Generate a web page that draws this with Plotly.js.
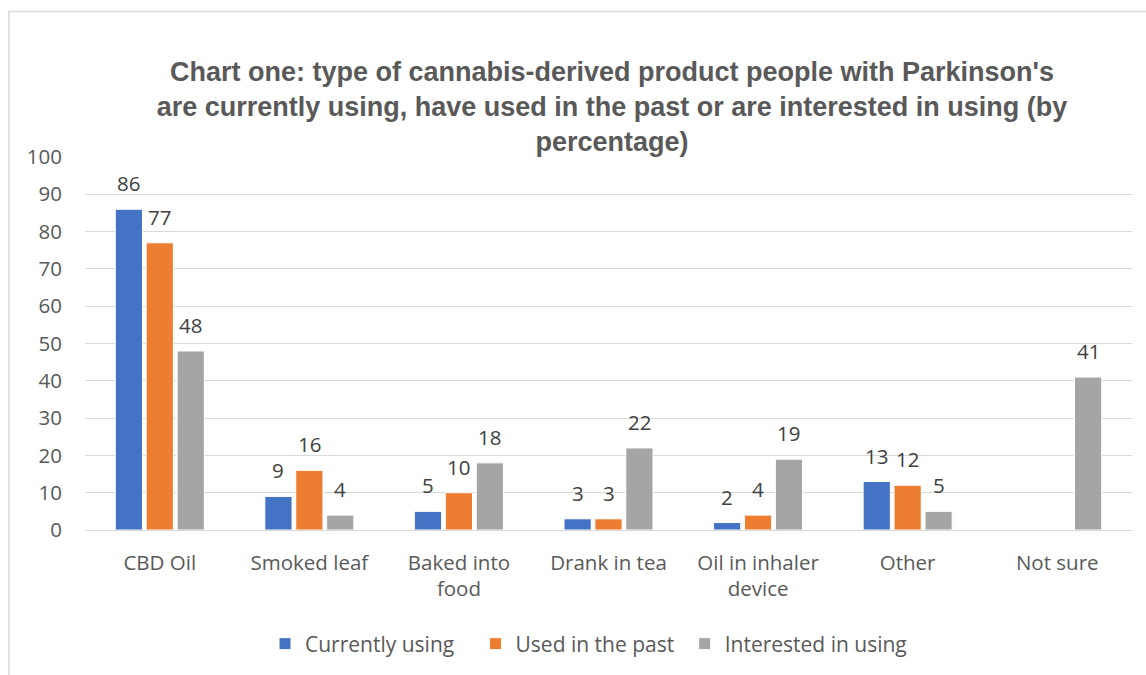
<!DOCTYPE html>
<html>
<head>
<meta charset="utf-8">
<script src="https://cdn.plot.ly/plotly-3.0.1.min.js"></script>
<style>html,body{margin:0;padding:0;background:#fff;}#chart{width:1146px;height:675px;}</style>
</head>
<body>
<div id="chart"></div>
<script>
const categories = ["CBD Oil", "Smoked leaf", "Baked into<br>food", "Drank in tea", "Oil in inhaler<br>device", "Other", "Not sure"];
const seriesNames = ["Currently using", "Used in the past", "Interested in using"];
const currentlyUsing = [86, 9, 5, 3, 2, 13, null];
const usedInPast = [77, 16, 10, 3, 4, 12, null];
const interestedInUsing = [48, 4, 18, 22, 19, 5, 41];
const colors = ["#4472C4", "#ED7D31", "#A5A5A5"];
const yTicks = [0, 10, 20, 30, 40, 50, 60, 70, 80, 90, 100];

const font = "'Open Sans', Lato, sans-serif";
const values = [currentlyUsing, usedInPast, interestedInUsing];
const bargap = 0.38, bargroupgap = 0.12;
// trailing non-breaking spaces only widen the legend entries to Excel's spacing
const legendPad = ["\u00a0\u00a0\u00a0", "\u00a0", ""];

const traces = values.map((v, i) => ({
  type: "bar",
  name: seriesNames[i] + legendPad[i],
  x: categories,
  y: v,
  marker: {color: colors[i], line: {color: "#ffffff", width: 1}},
  hoverinfo: "x+y+name"
}));

// data labels placed through the axes, at each bar's group slot
const slot = (1 - bargap) / values.length;
const annotations = [];
values.forEach((v, s) => {
  v.forEach((d, i) => {
    if (d === null) return;
    annotations.push({
      xref: "x", yref: "y",
      x: i + (s - (values.length - 1) / 2) * slot,
      y: d,
      text: String(d),
      showarrow: false,
      xanchor: "center", yanchor: "bottom",
      yshift: 10,
      font: {family: font, size: 20.5, color: "#404040"}
    });
  });
});

const ml = 85, mr = 14, mt = 157, mb = 144;
const W = 1146, H = 675;
const pw = W - ml - mr, ph = H - mt - mb;
const px = x => (x - ml) / pw;
const py = y => 1 - (y - mt) / ph;

const layout = {
  width: W, height: H,
  margin: {l: ml, r: mr, t: mt, b: mb},
  paper_bgcolor: "#ffffff",
  plot_bgcolor: "#ffffff",
  barmode: "group",
  bargap: bargap,
  bargroupgap: bargroupgap,
  title: {
    text: "Chart one: type of cannabis-derived product people with Parkinson's<br>are currently using, have used in the past or are interested in using (by<br>percentage)",
    font: {family: "'Liberation Sans', Arial, sans-serif", size: 27, color: "#595959", weight: "bold"},
    x: 612 / W, xanchor: "center",
    y: 1 - 81 / H, yanchor: "middle",
    xref: "container", yref: "container"
  },
  xaxis: {
    type: "category",
    tickfont: {family: font, size: 20.5, color: "#595959"},
    showline: true, linecolor: "#d9d9d9", linewidth: 1,
    ticks: "", showgrid: false, zeroline: false,
    ticklabelstandoff: 14,
    fixedrange: true
  },
  yaxis: {
    range: [0, 100],
    tickvals: yTicks,
    tickfont: {family: font, size: 20.5, color: "#595959"},
    showgrid: true, gridcolor: "#d9d9d9", gridwidth: 1,
    zeroline: false, showline: false, ticks: "",
    ticklabelstandoff: 22,
    fixedrange: true
  },
  legend: {
    orientation: "h",
    x: px(265), xanchor: "left",
    y: py(644), yanchor: "middle",
    font: {family: font, size: 21, color: "#595959"},
    itemwidth: 30,
    traceorder: "normal"
  },
  annotations: annotations,
  shapes: [{
    type: "rect", xref: "paper", yref: "paper",
    x0: px(9), x1: px(1160), y0: py(11), y1: py(690),
    line: {color: "#d9d9d9", width: 1.5}, fillcolor: "rgba(0,0,0,0)", layer: "below"
  }],
  showlegend: true
};

Plotly.newPlot("chart", traces, layout, {displayModeBar: false, staticPlot: true});
</script>
</body>
</html>
